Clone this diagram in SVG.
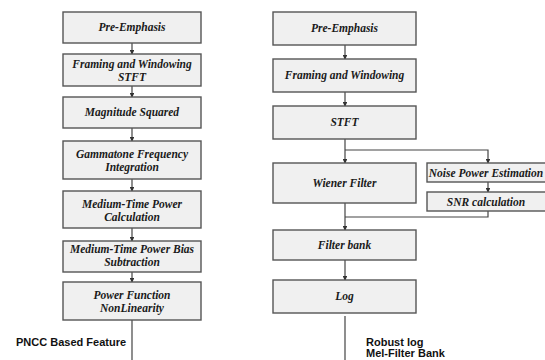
<svg xmlns="http://www.w3.org/2000/svg" width="545" height="360" viewBox="0 0 545 360">
<style>
.box{fill:#f0f0f0;stroke:#555;stroke-width:1.4}
.t{font-family:"Liberation Serif",serif;font-weight:700;font-style:italic;font-size:11.5px;fill:#1a1a1a;text-anchor:middle}
.lbl{font-family:"Liberation Sans",Arial,sans-serif;font-weight:bold;font-size:11px;fill:#111}
.c{fill:none;stroke:#444;stroke-width:1.2}
</style>
<defs>
<marker id="ah" viewBox="0 0 6 6" refX="5" refY="3" markerWidth="4" markerHeight="4" orient="auto">
<path d="M0,0 L6,3 L0,6 z" fill="#333"/>
</marker>
</defs>
<rect width="545" height="360" fill="#fff"/>
<g id="connectors">
<line class="c" x1="132" y1="43" x2="132" y2="54" marker-end="url(#ah)"/>
<line class="c" x1="132" y1="86" x2="132" y2="97" marker-end="url(#ah)"/>
<line class="c" x1="132" y1="128" x2="132" y2="141" marker-end="url(#ah)"/>
<line class="c" x1="132" y1="179" x2="132" y2="191" marker-end="url(#ah)"/>
<line class="c" x1="132" y1="228" x2="132" y2="241" marker-end="url(#ah)"/>
<line class="c" x1="132" y1="272" x2="132" y2="282" marker-end="url(#ah)"/>
<line class="c" x1="132" y1="320" x2="132" y2="360"/>
<line class="c" x1="345" y1="45" x2="345" y2="59" marker-end="url(#ah)"/>
<line class="c" x1="345" y1="92" x2="345" y2="106" marker-end="url(#ah)"/>
<line class="c" x1="345" y1="139" x2="345" y2="163" marker-end="url(#ah)"/>
<path class="c" d="M345,150 H488 V163" marker-end="url(#ah)"/>
<line class="c" x1="488" y1="182" x2="488" y2="192" marker-end="url(#ah)"/>
<path class="c" d="M488,211 V217 H345"/>
<line class="c" x1="345" y1="203" x2="345" y2="230" marker-end="url(#ah)"/>
<line class="c" x1="345" y1="260" x2="345" y2="280" marker-end="url(#ah)"/>
<line class="c" x1="345" y1="316" x2="345" y2="360"/>
</g>
<g id="l1"><rect class="box" x="63" y="12" width="138" height="31"/><text class="t" x="132" y="31">Pre-Emphasis</text></g>
<g id="l2"><rect class="box" x="63" y="54" width="138" height="32"/><text class="t" x="132" y="68">Framing and Windowing</text><text class="t" x="132" y="81">STFT</text></g>
<g id="l3"><rect class="box" x="63" y="97" width="138" height="31"/><text class="t" x="132" y="116">Magnitude Squared</text></g>
<g id="l4"><rect class="box" x="63" y="141" width="138" height="38"/><text class="t" x="132" y="158">Gammatone Frequency</text><text class="t" x="132" y="171">Integration</text></g>
<g id="l5"><rect class="box" x="63" y="191" width="138" height="37"/><text class="t" x="132" y="208">Medium-Time Power</text><text class="t" x="132" y="221">Calculation</text></g>
<g id="l6"><rect class="box" x="63" y="241" width="138" height="31"/><text class="t" x="132" y="253">Medium-Time Power Bias</text><text class="t" x="132" y="266">Subtraction</text></g>
<g id="l7"><rect class="box" x="63" y="282" width="138" height="38"/><text class="t" x="132" y="299">Power Function</text><text class="t" x="132" y="312">NonLinearity</text></g>
<g id="r1"><rect class="box" x="273" y="12" width="143" height="33"/><text class="t" x="344.5" y="32">Pre-Emphasis</text></g>
<g id="r2"><rect class="box" x="273" y="59" width="143" height="33"/><text class="t" x="344.5" y="79">Framing and Windowing</text></g>
<g id="r3"><rect class="box" x="273" y="106" width="143" height="33"/><text class="t" x="344.5" y="126">STFT</text></g>
<g id="r4"><rect class="box" x="273" y="163" width="143" height="40"/><text class="t" x="344.5" y="187">Wiener Filter</text></g>
<g id="r5"><rect class="box" x="273" y="230" width="143" height="30"/><text class="t" x="344.5" y="249">Filter bank</text></g>
<g id="r6"><rect class="box" x="273" y="280" width="143" height="33"/><text class="t" x="344.5" y="300">Log</text></g>
<g id="n1"><rect class="box" x="427" y="163" width="120" height="19"/><text class="t" x="486" y="177">Noise Power Estimation</text></g>
<g id="n2"><rect class="box" x="427" y="192" width="120" height="19"/><text class="t" x="486" y="206">SNR calculation</text></g>
<g id="labels">
<text class="lbl" x="16" y="346">PNCC Based Feature</text>
<text class="lbl" x="366" y="346">Robust log</text>
<text class="lbl" x="366" y="357">Mel-Filter Bank</text>
</g>
</svg>
